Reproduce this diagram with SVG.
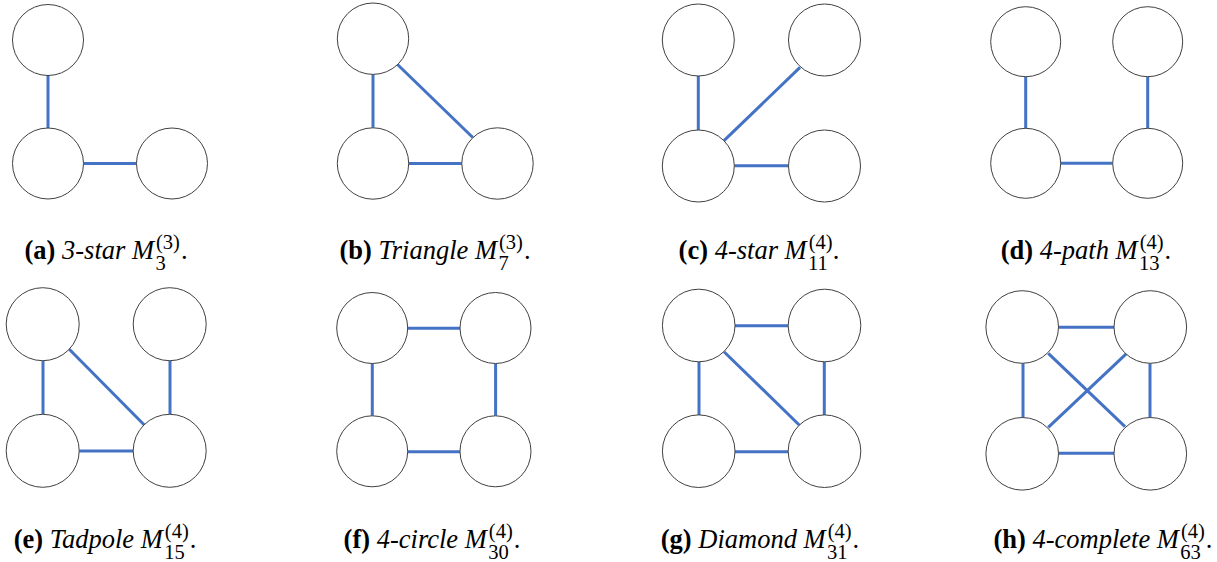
<svg xmlns="http://www.w3.org/2000/svg" width="1217" height="562" viewBox="0 0 1217 562">
<style>
  .n { fill: #ffffff; stroke: #404040; stroke-width: 1; }
  .e { stroke: #4472C4; stroke-width: 3; fill: none; }
  .cap { font-family: 'Liberation Serif', 'Times New Roman', serif; font-size: 26.5px; fill: #000000; text-anchor: middle; }
  .b { font-weight: bold; font-style: normal; }
  .i { font-style: italic; }
  .s { font-style: normal; font-size: 20.5px; }
</style>
<rect width="1217" height="562" fill="#ffffff"/>

<!-- connectors -->
<g id="connectors">
  <line class="e" x1="48" y1="75.5" x2="48" y2="128"/>
  <line class="e" x1="83.5" y1="163.5" x2="136.5" y2="163.5"/>
  <line class="e" x1="373" y1="74.4" x2="373" y2="127.8"/>
  <line class="e" x1="397.5" y1="64.5" x2="472.8" y2="137.5"/>
  <line class="e" x1="408.7" y1="163.4" x2="461.8" y2="163.4"/>
  <line class="e" x1="698.3" y1="76" x2="698.3" y2="130"/>
  <line class="e" x1="724" y1="140.7" x2="800" y2="67.3"/>
  <line class="e" x1="734.3" y1="165.8" x2="788.5" y2="165.8"/>
  <line class="e" x1="1025.7" y1="76.7" x2="1025.7" y2="128.3"/>
  <line class="e" x1="1147.7" y1="76.7" x2="1147.7" y2="128.3"/>
  <line class="e" x1="1060.7" y1="163.3" x2="1112.7" y2="163.3"/>
  <line class="e" x1="43" y1="360.7" x2="43" y2="414.3"/>
  <line class="e" x1="170" y1="360.7" x2="170" y2="414.3"/>
  <line class="e" x1="69" y1="349" x2="144.3" y2="425"/>
  <line class="e" x1="79.2" y1="451" x2="133.2" y2="451"/>
  <line class="e" x1="407.7" y1="328.3" x2="460" y2="328.3"/>
  <line class="e" x1="372.3" y1="363.5" x2="372.3" y2="415.8"/>
  <line class="e" x1="495.6" y1="363.5" x2="495.6" y2="415.8"/>
  <line class="e" x1="407.7" y1="451.7" x2="460" y2="451.7"/>
  <line class="e" x1="735" y1="325.7" x2="788.3" y2="325.7"/>
  <line class="e" x1="699" y1="361.8" x2="699" y2="415"/>
  <line class="e" x1="824.3" y1="361.8" x2="824.3" y2="415"/>
  <line class="e" x1="735" y1="451.7" x2="788.3" y2="451.7"/>
  <line class="e" x1="724" y1="351.7" x2="800" y2="425.7"/>
  <line class="e" x1="1058.5" y1="327.3" x2="1114" y2="327.3"/>
  <line class="e" x1="1023" y1="363.3" x2="1023" y2="417.5"/>
  <line class="e" x1="1150" y1="363.3" x2="1150" y2="417.5"/>
  <line class="e" x1="1058.5" y1="453.3" x2="1114" y2="453.3"/>
  <line class="e" x1="1048.3" y1="353.3" x2="1125" y2="426.7"/>
  <line class="e" x1="1126.7" y1="353.3" x2="1048.3" y2="427.3"/>
</g>

<!-- nodes -->
<g id="a-n1"><circle class="n" cx="48" cy="40" r="35.5"/></g>
<g id="a-n2"><circle class="n" cx="48" cy="163.5" r="35.5"/></g>
<g id="a-n3"><circle class="n" cx="172" cy="163.5" r="35.5"/></g>

<g id="b-n1"><circle class="n" cx="373" cy="38.7" r="35.7"/></g>
<g id="b-n2"><circle class="n" cx="373" cy="163.5" r="35.7"/></g>
<g id="b-n3"><circle class="n" cx="497.5" cy="163.5" r="35.7"/></g>

<g id="c-n1"><circle class="n" cx="698.3" cy="40" r="36"/></g>
<g id="c-n2"><circle class="n" cx="824.5" cy="40" r="36"/></g>
<g id="c-n3"><circle class="n" cx="698.3" cy="166" r="36"/></g>
<g id="c-n4"><circle class="n" cx="824.5" cy="166" r="36"/></g>

<g id="d-n1"><circle class="n" cx="1025.7" cy="41.7" r="35"/></g>
<g id="d-n2"><circle class="n" cx="1147.7" cy="41.7" r="35"/></g>
<g id="d-n3"><circle class="n" cx="1025.7" cy="163.3" r="35"/></g>
<g id="d-n4"><circle class="n" cx="1147.7" cy="163.3" r="35"/></g>

<g id="e-n1"><circle class="n" cx="42.7" cy="324.2" r="36.5"/></g>
<g id="e-n2"><circle class="n" cx="169.7" cy="324.2" r="36.5"/></g>
<g id="e-n3"><circle class="n" cx="42.7" cy="450.8" r="36.5"/></g>
<g id="e-n4"><circle class="n" cx="169.7" cy="450.8" r="36.5"/></g>

<g id="f-n1"><circle class="n" cx="372.2" cy="328" r="35.5"/></g>
<g id="f-n2"><circle class="n" cx="495.5" cy="328" r="35.5"/></g>
<g id="f-n3"><circle class="n" cx="372.2" cy="451.3" r="35.5"/></g>
<g id="f-n4"><circle class="n" cx="495.5" cy="451.3" r="35.5"/></g>

<g id="g-n1"><circle class="n" cx="698.7" cy="325.5" r="36.3"/></g>
<g id="g-n2"><circle class="n" cx="824.5" cy="325.5" r="36.3"/></g>
<g id="g-n3"><circle class="n" cx="698.7" cy="451.2" r="36.3"/></g>
<g id="g-n4"><circle class="n" cx="824.5" cy="451.2" r="36.3"/></g>

<g id="h-n1"><circle class="n" cx="1022.2" cy="327" r="36.3"/></g>
<g id="h-n2"><circle class="n" cx="1150.3" cy="327" r="36.3"/></g>
<g id="h-n3"><circle class="n" cx="1022.2" cy="453.8" r="36.3"/></g>
<g id="h-n4"><circle class="n" cx="1150.3" cy="453.8" r="36.3"/></g>

<!-- captions -->
<g id="captions">
  <text class="cap" x="106" y="259"><tspan class="b">(a)</tspan> <tspan class="i">3-star M</tspan><tspan class="s" dx="2" dy="-10">(3)</tspan><tspan class="s" dx="-24.5" dy="21">3</tspan><tspan dx="15.2" dy="-11">.</tspan></text>
  <text class="cap" x="435" y="259"><tspan class="b">(b)</tspan> <tspan class="i">Triangle M</tspan><tspan class="s" dx="2" dy="-10">(3)</tspan><tspan class="s" dx="-24.5" dy="21">7</tspan><tspan dx="15.2" dy="-11">.</tspan></text>
  <text class="cap" x="759" y="259"><tspan class="b">(c)</tspan> <tspan class="i">4-star M</tspan><tspan class="s" dx="2" dy="-10">(4)</tspan><tspan class="s" dx="-24.5" dy="21">11</tspan><tspan dx="5" dy="-11">.</tspan></text>
  <text class="cap" x="1086" y="259"><tspan class="b">(d)</tspan> <tspan class="i">4-path M</tspan><tspan class="s" dx="2" dy="-10">(4)</tspan><tspan class="s" dx="-24.5" dy="21">13</tspan><tspan dx="5" dy="-11">.</tspan></text>
  <text class="cap" x="105" y="548"><tspan class="b">(e)</tspan> <tspan class="i">Tadpole M</tspan><tspan class="s" dx="2" dy="-10">(4)</tspan><tspan class="s" dx="-24.5" dy="21">15</tspan><tspan dx="5" dy="-11">.</tspan></text>
  <text class="cap" x="432" y="548"><tspan class="b">(f)</tspan> <tspan class="i">4-circle M</tspan><tspan class="s" dx="2" dy="-10">(4)</tspan><tspan class="s" dx="-24.5" dy="21">30</tspan><tspan dx="5" dy="-11">.</tspan></text>
  <text class="cap" x="760" y="548"><tspan class="b">(g)</tspan> <tspan class="i">Diamond M</tspan><tspan class="s" dx="2" dy="-10">(4)</tspan><tspan class="s" dx="-24.5" dy="21">31</tspan><tspan dx="5" dy="-11">.</tspan></text>
  <text class="cap" x="1103" y="548"><tspan class="b">(h)</tspan> <tspan class="i">4-complete M</tspan><tspan class="s" dx="2" dy="-10">(4)</tspan><tspan class="s" dx="-24.5" dy="21">63</tspan><tspan dx="5" dy="-11">.</tspan></text>
</g>
</svg>
